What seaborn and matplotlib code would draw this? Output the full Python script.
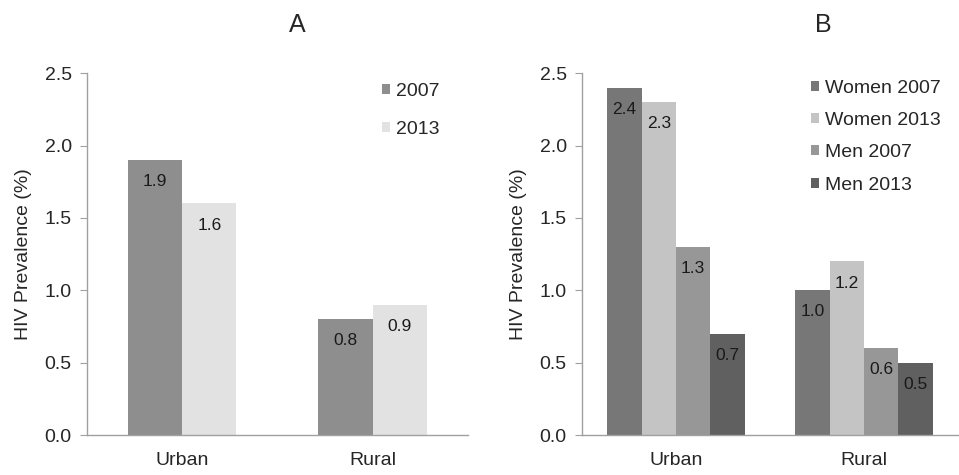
import pandas as pd
import seaborn as sns
import matplotlib.pyplot as plt

# data
areas = ['Urban', 'Rural']

yearsA = ['2007', '2013']
prevA_2007 = [1.9, 0.8]
prevA_2013 = [1.6, 0.9]

groupsB = ['Women 2007', 'Women 2013', 'Men 2007', 'Men 2013']
women_2007 = [2.4, 1.0]
women_2013 = [2.3, 1.2]
men_2007 = [1.3, 0.6]
men_2013 = [0.7, 0.5]

yticks = [0.0, 0.5, 1.0, 1.5, 2.0, 2.5]

colorsA = ['#8e8e8e', '#e2e2e2']
colorsB = ['#777777', '#c4c4c4', '#979797', '#606060']

# long format tables
dfA = pd.DataFrame({'area': areas * 2,
                    'group': [yearsA[0]] * 2 + [yearsA[1]] * 2,
                    'value': prevA_2007 + prevA_2013})
dfB = pd.DataFrame({'area': areas * 4,
                    'group': sum([[g] * 2 for g in groupsB], []),
                    'value': women_2007 + women_2013 + men_2007 + men_2013})

sns.set_style('white')
plt.rcParams['font.family'] = ['Liberation Sans', 'DejaVu Sans']

fig = plt.figure(figsize=(9.59, 4.75), dpi=100)
axA = fig.add_axes([0.0907, 0.084, 0.397, 0.762])
axB = fig.add_axes([0.607, 0.084, 0.392, 0.762])


def style_axis(ax, data, groups, colors, width, labelspace, lx, ly):
    sns.barplot(data=data, x='area', y='value', hue='group', hue_order=groups,
                palette=colors, width=width, saturation=1, ax=ax,
                legend=False, linewidth=0)
    for c in ax.containers:
        ax.bar_label(c, fmt='%.1f', padding=-21, fontsize=12.5, color='#1a1a1a')
    ax.set_xlim(-0.5, 1.5)
    ax.set_ylim(0, 2.5)
    ax.set_yticks(yticks)
    ax.set_yticklabels(['%.1f' % t for t in yticks])
    ax.set_xticks([0.5], minor=True)
    ax.tick_params(axis='x', which='major', length=0, labelsize=14, pad=12)
    ax.tick_params(axis='x', which='minor', length=5, color='#a0a0a0', direction='out')
    ax.tick_params(axis='y', length=5, color='#a0a0a0', labelsize=14, direction='out',
                   left=True, pad=6)
    ax.set_xlabel('')
    ax.set_ylabel('HIV Prevalence (%)', fontsize=14, labelpad=9)
    for s in ['top', 'right']:
        ax.spines[s].set_visible(False)
    for s in ['left', 'bottom']:
        ax.spines[s].set_color('#a0a0a0')
        ax.spines[s].set_linewidth(1)
    ax.legend(handles=ax.containers, labels=groups, frameon=False, loc='upper left',
              bbox_to_anchor=(lx, ly), borderpad=0, borderaxespad=0,
              handlelength=0.42, handleheight=0.42, handletextpad=0.3,
              labelspacing=labelspace, fontsize=14)


style_axis(axA, dfA, yearsA, colorsA, 0.57, 1.1, 0.775, 0.973)
style_axis(axB, dfB, groupsB, colorsB, 0.73, 0.78, 0.608, 0.981)

fig.text(297 / 959, 1 - 25 / 475, 'A', fontsize=18, ha='center', va='center')
fig.text(823 / 959, 1 - 25 / 475, 'B', fontsize=18, ha='center', va='center')

fig.savefig('out.png', dpi=100, facecolor='white')
